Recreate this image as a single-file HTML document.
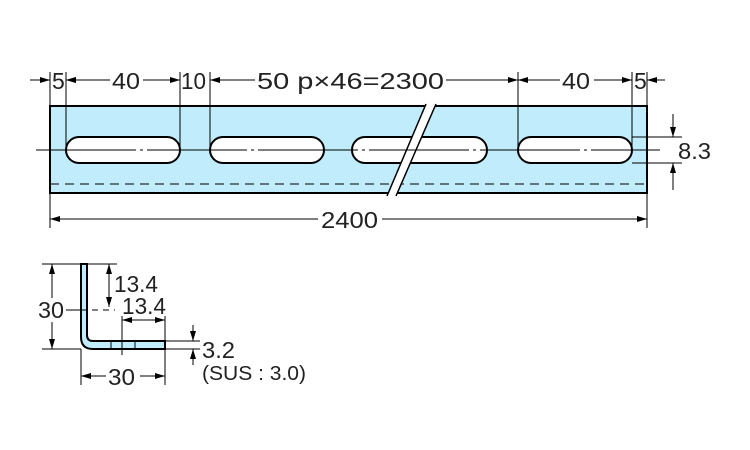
<!DOCTYPE html>
<html><head><meta charset="utf-8"><style>html,body{margin:0;padding:0;background:#fff}svg{display:block}</style></head><body>
<svg width="750" height="450" viewBox="0 0 750 450" xmlns="http://www.w3.org/2000/svg">
<defs>
<marker id="a" viewBox="0 0 10 6" refX="10" refY="3" markerWidth="10" markerHeight="6" orient="auto-start-reverse" markerUnits="userSpaceOnUse"><path d="M0,0L10,3L0,6z" fill="#000"/></marker>
</defs>
<g stroke="#000" fill="none">
<rect x="50" y="106" width="597" height="87" fill="#c0ecfc" stroke-width="2"/>
<line x1="50" y1="184" x2="647" y2="184" stroke-dasharray="9,6" stroke-width="1"/>
<g fill="#fff" stroke-width="2">
<rect x="66" y="137" width="114" height="26" rx="13"/>
<rect x="210" y="137" width="114" height="26" rx="13"/>
<rect x="352" y="137" width="135" height="26" rx="13"/>
<rect x="518" y="137" width="114" height="26" rx="13"/>
</g>
<polygon points="426,104 436,104 396,196 387,196" fill="#fff" stroke="none"/>
<line x1="426" y1="104" x2="387" y2="196" stroke-width="1.5"/>
<line x1="436" y1="104" x2="396" y2="196" stroke-width="1.5"/>
<line x1="36" y1="150" x2="660" y2="150" stroke-width="1" stroke-dasharray="100,4,3,4"/>
<g stroke-width="1">
<line x1="50" y1="72" x2="50" y2="106"/><line x1="66" y1="72" x2="66" y2="150"/>
<line x1="180" y1="72" x2="180" y2="150"/><line x1="210" y1="72" x2="210" y2="150"/>
<line x1="518" y1="72" x2="518" y2="150"/><line x1="632" y1="72" x2="632" y2="150"/>
<line x1="647" y1="72" x2="647" y2="106"/>
<line x1="30" y1="80" x2="50" y2="80" marker-end="url(#a)"/>
<line x1="66" y1="80" x2="81" y2="80" marker-start="url(#a)"/>
<line x1="110" y1="80" x2="66" y2="80" marker-end="url(#a)"/>
<line x1="143" y1="80" x2="180" y2="80" marker-end="url(#a)"/>
<line x1="255" y1="80" x2="210" y2="80" marker-end="url(#a)"/>
<line x1="446" y1="80" x2="518" y2="80" marker-end="url(#a)"/>
<line x1="560" y1="80" x2="518" y2="80" marker-end="url(#a)"/>
<line x1="594" y1="80" x2="632" y2="80" marker-end="url(#a)"/>
<line x1="665" y1="80" x2="647" y2="80" marker-end="url(#a)"/>
<line x1="50" y1="193" x2="50" y2="228"/><line x1="647" y1="193" x2="647" y2="228"/>
<line x1="318" y1="219" x2="50" y2="219" marker-end="url(#a)"/>
<line x1="382" y1="219" x2="647" y2="219" marker-end="url(#a)"/>
<line x1="632" y1="137" x2="682" y2="137"/><line x1="632" y1="163" x2="682" y2="163"/>
<line x1="673" y1="114" x2="673" y2="137" marker-end="url(#a)"/>
<line x1="673" y1="190" x2="673" y2="163" marker-end="url(#a)"/>
</g>
<path d="M81,264 L87,264 L87,335 Q87,341 93,341 L165,341 L165,349 L93,349 Q81,349 81,337 Z" fill="#c0ecfc" stroke-width="2"/>
<g stroke-width="1">
<line x1="42" y1="264" x2="117" y2="264"/><line x1="42" y1="349" x2="81" y2="349"/>
<line x1="165" y1="349" x2="200" y2="349"/><line x1="165" y1="341" x2="200" y2="341"/>
<line x1="52" y1="264" x2="52" y2="298" marker-start="url(#a)"/>
<line x1="52" y1="322" x2="52" y2="349" marker-end="url(#a)"/>
<line x1="66" y1="310" x2="81" y2="310"/>
<line x1="81" y1="310" x2="115" y2="310" stroke-dasharray="6,5"/>
<line x1="109" y1="264" x2="109" y2="307" marker-start="url(#a)" marker-end="url(#a)"/>
<line x1="122" y1="316" x2="122" y2="355"/>
<line x1="165" y1="316" x2="165" y2="385"/><line x1="81" y1="349" x2="81" y2="385"/>
<line x1="122" y1="320" x2="165" y2="320" marker-start="url(#a)" marker-end="url(#a)"/>
<line x1="111" y1="341" x2="111" y2="349"/><line x1="135" y1="341" x2="135" y2="349"/>
<line x1="193" y1="325" x2="193" y2="341" marker-end="url(#a)"/>
<line x1="193" y1="365" x2="193" y2="349" marker-end="url(#a)"/>
<line x1="106" y1="376" x2="81" y2="376" marker-end="url(#a)"/>
<line x1="140" y1="376" x2="165" y2="376" marker-end="url(#a)"/>
</g>
</g>
<g font-family="Liberation Sans, sans-serif" font-size="23" fill="#222" lengthAdjust="spacingAndGlyphs">
<text x="52" y="89">5</text>
<text x="112" y="89" textLength="28" lengthAdjust="spacingAndGlyphs">40</text>
<text x="181" y="89" textLength="25" lengthAdjust="spacingAndGlyphs">10</text>
<text x="257" y="89" textLength="187" lengthAdjust="spacingAndGlyphs">50 p×46=2300</text>
<text x="562" y="89" textLength="28" lengthAdjust="spacingAndGlyphs">40</text>
<text x="634" y="89">5</text>
<text x="321" y="228" textLength="57" lengthAdjust="spacingAndGlyphs">2400</text>
<text x="678" y="159" textLength="33" lengthAdjust="spacingAndGlyphs">8.3</text>
<text x="38" y="318" textLength="26" lengthAdjust="spacingAndGlyphs">30</text>
<text x="114" y="292" textLength="44" lengthAdjust="spacingAndGlyphs">13.4</text>
<text x="122" y="314" textLength="44" lengthAdjust="spacingAndGlyphs">13.4</text>
<text x="202" y="358" textLength="33" lengthAdjust="spacingAndGlyphs">3.2</text>
<text x="202" y="380" font-size="20" textLength="104" lengthAdjust="spacingAndGlyphs">(SUS : 3.0)</text>
<text x="108" y="385" textLength="27" lengthAdjust="spacingAndGlyphs">30</text>
</g>
</svg>
</body></html>
